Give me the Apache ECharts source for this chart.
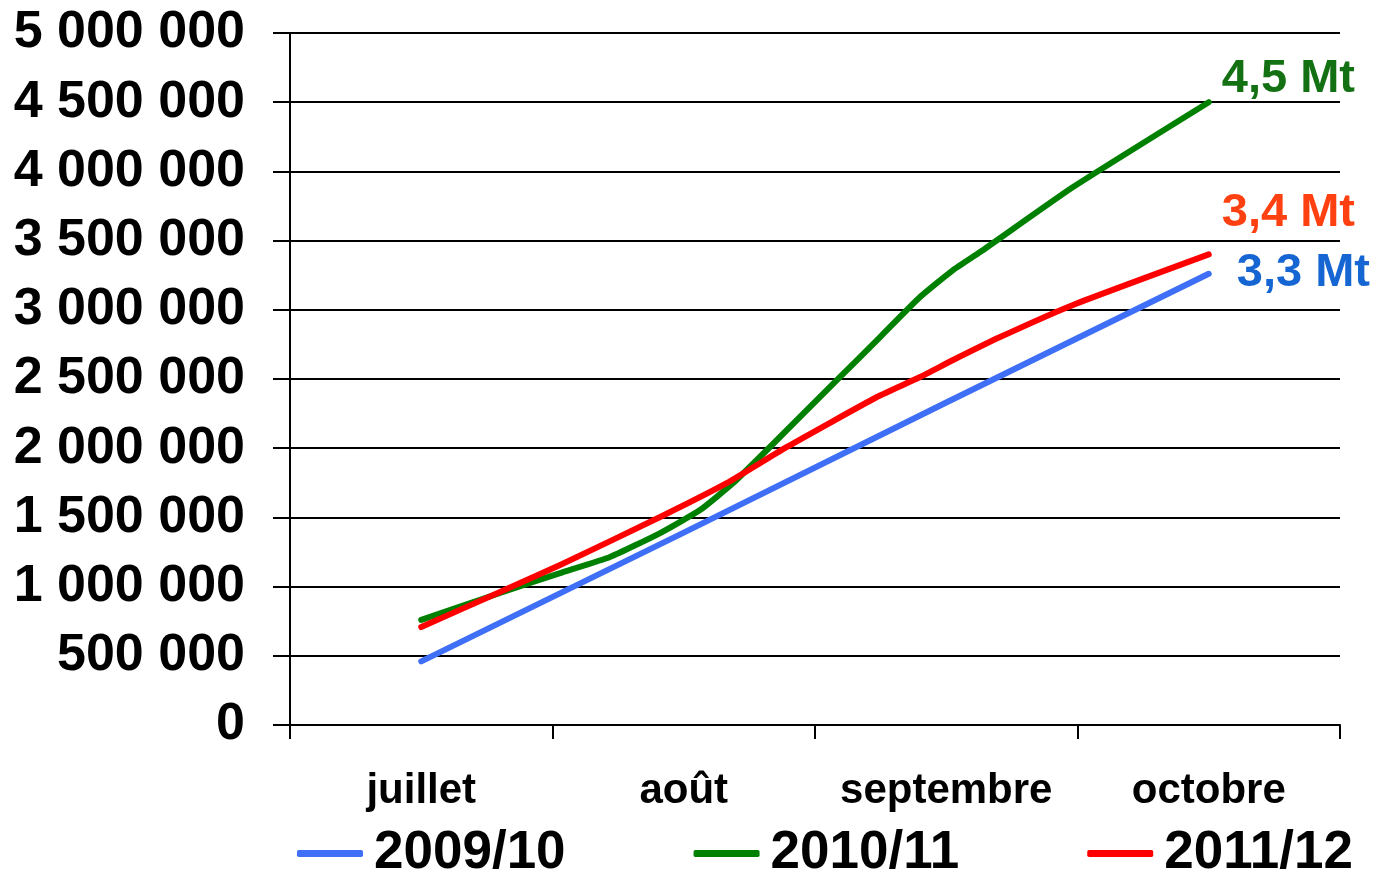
<!DOCTYPE html>
<html>
<head>
<meta charset="utf-8">
<script src="https://cdn.jsdelivr.net/npm/echarts@6/dist/echarts.min.js"></script>
<style>
  html, body { margin: 0; padding: 0; background: #fff; }
  #chart { width: 1377px; height: 874px; }
</style>
</head>
<body>
<div id="chart"></div>
<script>
// Month categories on the x axis
const months = ['juillet', 'août', 'septembre', 'octobre'];
const seasons = ['2009/10', '2010/11', '2011/12'];
// y axis ticks
const yMin = 0, yMax = 5000000, yStep = 500000;

// Cumulative tonnage; x is measured in months from 1 July (month centre = .5)
const x0910 = [0.5, 1.5, 2.5, 3.5];
const y0910 = [460000, 1390000, 2330000, 3260000];

const x1011 = [0.5, 0.8, 1.029, 1.219, 1.41, 1.562, 1.688, 1.817, 2.084, 2.248, 2.4, 2.526, 2.629, 2.983, 3.5];
const y1011 = [759000, 954000, 1098000, 1214000, 1387000, 1553000, 1748000, 1987000, 2493000, 2803000, 3092000, 3287000, 3417000, 3887000, 4500000];

const x1112 = [0.5, 0.8, 1.029, 1.41, 1.665, 1.893, 2.236, 2.4, 2.526, 2.705, 2.983, 3.5];
const y1112 = [708000, 961000, 1156000, 1503000, 1749000, 2009000, 2370000, 2514000, 2637000, 2803000, 3035000, 3400000];

const lineColors = ['#3f6ff7', '#008000', '#ff0000'];
const labelColors = ['#1566d2', '#137013', '#ff4010'];
const labelOffsets = [[23, -1], [8, -23], [8, -41]];

const FONT = '"Liberation Sans", Arial, sans-serif';

function pairs(xs, ys) { return xs.map((x, i) => [x, ys[i]]); }
function spaced(v) { return String(v).replace(/\B(?=(\d{3})+(?!\d))/g, ' '); }

const seriesData = [pairs(x0910, y0910), pairs(x1011, y1011), pairs(x1112, y1112)];

const chart = echarts.init(document.getElementById('chart'), null, { renderer: 'canvas' });

chart.setOption({
  animation: false,
  backgroundColor: '#ffffff',
  grid: { left: 290, right: 37, top: 33, bottom: 149, containLabel: false },
  legend: {
    left: 292,
    top: 822,
    itemWidth: 66,
    itemHeight: 7,
    itemGap: 128,
    icon: 'roundRect',
    textStyle: { fontFamily: FONT, fontWeight: 'bold', fontSize: 53, color: '#000', padding: [0, 0, 0, 6] },
    data: seasons
  },
  xAxis: [
    {
      type: 'category',
      data: months,
      boundaryGap: true,
      axisLine: { lineStyle: { color: '#000', width: 2 } },
      axisTick: { show: true, interval: 0, length: 14, lineStyle: { color: '#000', width: 2 } },
      axisLabel: { interval: 0, fontFamily: FONT, fontWeight: 'bold', fontSize: 42, color: '#000', margin: 45 },
      splitLine: { show: false }
    },
    {
      type: 'value',
      min: 0, max: months.length,
      show: false
    }
  ],
  yAxis: {
    type: 'value',
    min: yMin, max: yMax, interval: yStep,
    axisLine: { show: true, lineStyle: { color: '#000', width: 2 } },
    axisTick: { show: true, length: 17, lineStyle: { color: '#000', width: 2 } },
    axisLabel: { fontFamily: FONT, fontWeight: 'bold', fontSize: 52, color: '#000', margin: 45, formatter: spaced },
    splitLine: { show: true, lineStyle: { color: '#000', width: 2 } }
  },
  series: seasons.map((name, i) => ({
    name: name,
    type: 'line',
    xAxisIndex: 1,
    data: seriesData[i],
    smooth: i === 0 ? false : 0.15,
    showSymbol: false,
    symbol: 'none',
    color: lineColors[i],
    lineStyle: { color: lineColors[i], width: 6, cap: 'round', join: 'round' },
    endLabel: {
      show: true,
      distance: 5,
      offset: labelOffsets[i],
      fontFamily: FONT,
      fontWeight: 'bold',
      fontSize: 47,
      color: labelColors[i],
      formatter: p => (p.value[1] / 1e6).toFixed(1).replace('.', ',') + ' Mt'
    },
    z: i === 0 ? 2 : (i === 1 ? 3 : 4)
  }))
});
</script>
</body>
</html>
